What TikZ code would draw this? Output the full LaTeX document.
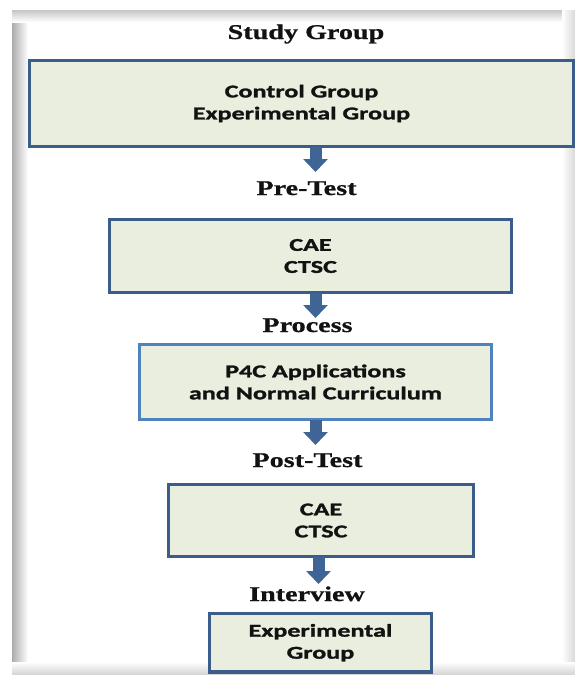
\documentclass[tikz,border=0pt]{standalone}
\usepackage{fontspec}
\usetikzlibrary{arrows.meta}
\newfontfamily\headfont[FakeStretch=1.34,FakeBold=0.8]{Liberation Serif Bold}
\newfontfamily\boxfont[FakeStretch=1.45,FakeBold=1.5]{Carlito Bold}
\definecolor{boxfill}{HTML}{EAEEDE}
\definecolor{boxedge}{HTML}{3A5D8C}
\definecolor{boxedgelight}{HTML}{5082BE}
\definecolor{arrowblue}{HTML}{3F6597}
\definecolor{inkdark}{HTML}{121212}
\tikzset{
  stagebox/.style={draw=boxedge, line width=3.8pt, fill=boxfill, inner sep=0pt,
    align=center, text=inkdark, font=\boxfont\fontsize{18}{22}\selectfont},
  stagelabel/.style={anchor=base, inner sep=0pt, text=inkdark,
    font=\headfont\fontsize{21}{24}\selectfont},
  blockarrow/.style={draw=arrowblue, line width=12pt,
    -{Triangle[width=24pt,length=13pt]}, shorten <=-1pt}
}
\begin{document}
\begin{tikzpicture}[x=1pt,y=-1pt]
\useasboundingbox (0,0) rectangle (575,675);
% page with soft inner shadow along its edges
\fill[white] (0,0) rectangle (575,675);
\shade[left color=gray!65, right color=white] (12,10) rectangle (28,675);
\shade[top color=gray!45, bottom color=white] (12,10) rectangle (575,22);
\shade[left color=white, right color=gray!30] (562,10) rectangle (575,675);
\shade[top color=white, bottom color=gray!35] (12,662) rectangle (575,675);
\fill[white] (28,22) rectangle (562,662);

% stages
\node[stagelabel] (lstudy) at (306,39) {Study Group};
\node[stagebox, minimum width=544pt, minimum height=86pt] (b1) at (301.5,103.5)
  {Control Group\\Experimental Group};

\node[stagelabel] (lpre) at (306.5,195) {Pre-Test};
\node[stagebox, minimum width=402pt, minimum height=73pt] (b2) at (310.5,256)
  {CAE\\CTSC};

\node[stagelabel] (lproc) at (307.5,332) {Process};
\node[stagebox, draw=boxedgelight, minimum width=352pt, minimum height=75pt] (b3) at (315.5,382)
  {P4C Applications\\and Normal Curriculum};

\node[stagelabel] (lpost) at (307.5,467) {Post-Test};
\node[stagebox, minimum width=305pt, minimum height=72pt] (b4) at (321,520.5)
  {CAE\\CTSC};

\node[stagelabel] (linter) at (307,601) {Interview};
\node[stagebox, minimum width=222pt, minimum height=58.5pt] (b5) at (320.5,642.75)
  {Experimental\\Group};

% arrow tips just above each label
\coordinate (t1) at (315.5,172);
\coordinate (t2) at (315.5,318);
\coordinate (t3) at (315.5,445);
\coordinate (t4) at (318.5,584);
\draw[blockarrow] (b1.south -| t1) -- (t1);
\draw[blockarrow] (b2.south -| t2) -- (t2);
\draw[blockarrow] (b3.south -| t3) -- (t3);
\draw[blockarrow] (b4.south -| t4) -- (t4);
\end{tikzpicture}
\end{document}
